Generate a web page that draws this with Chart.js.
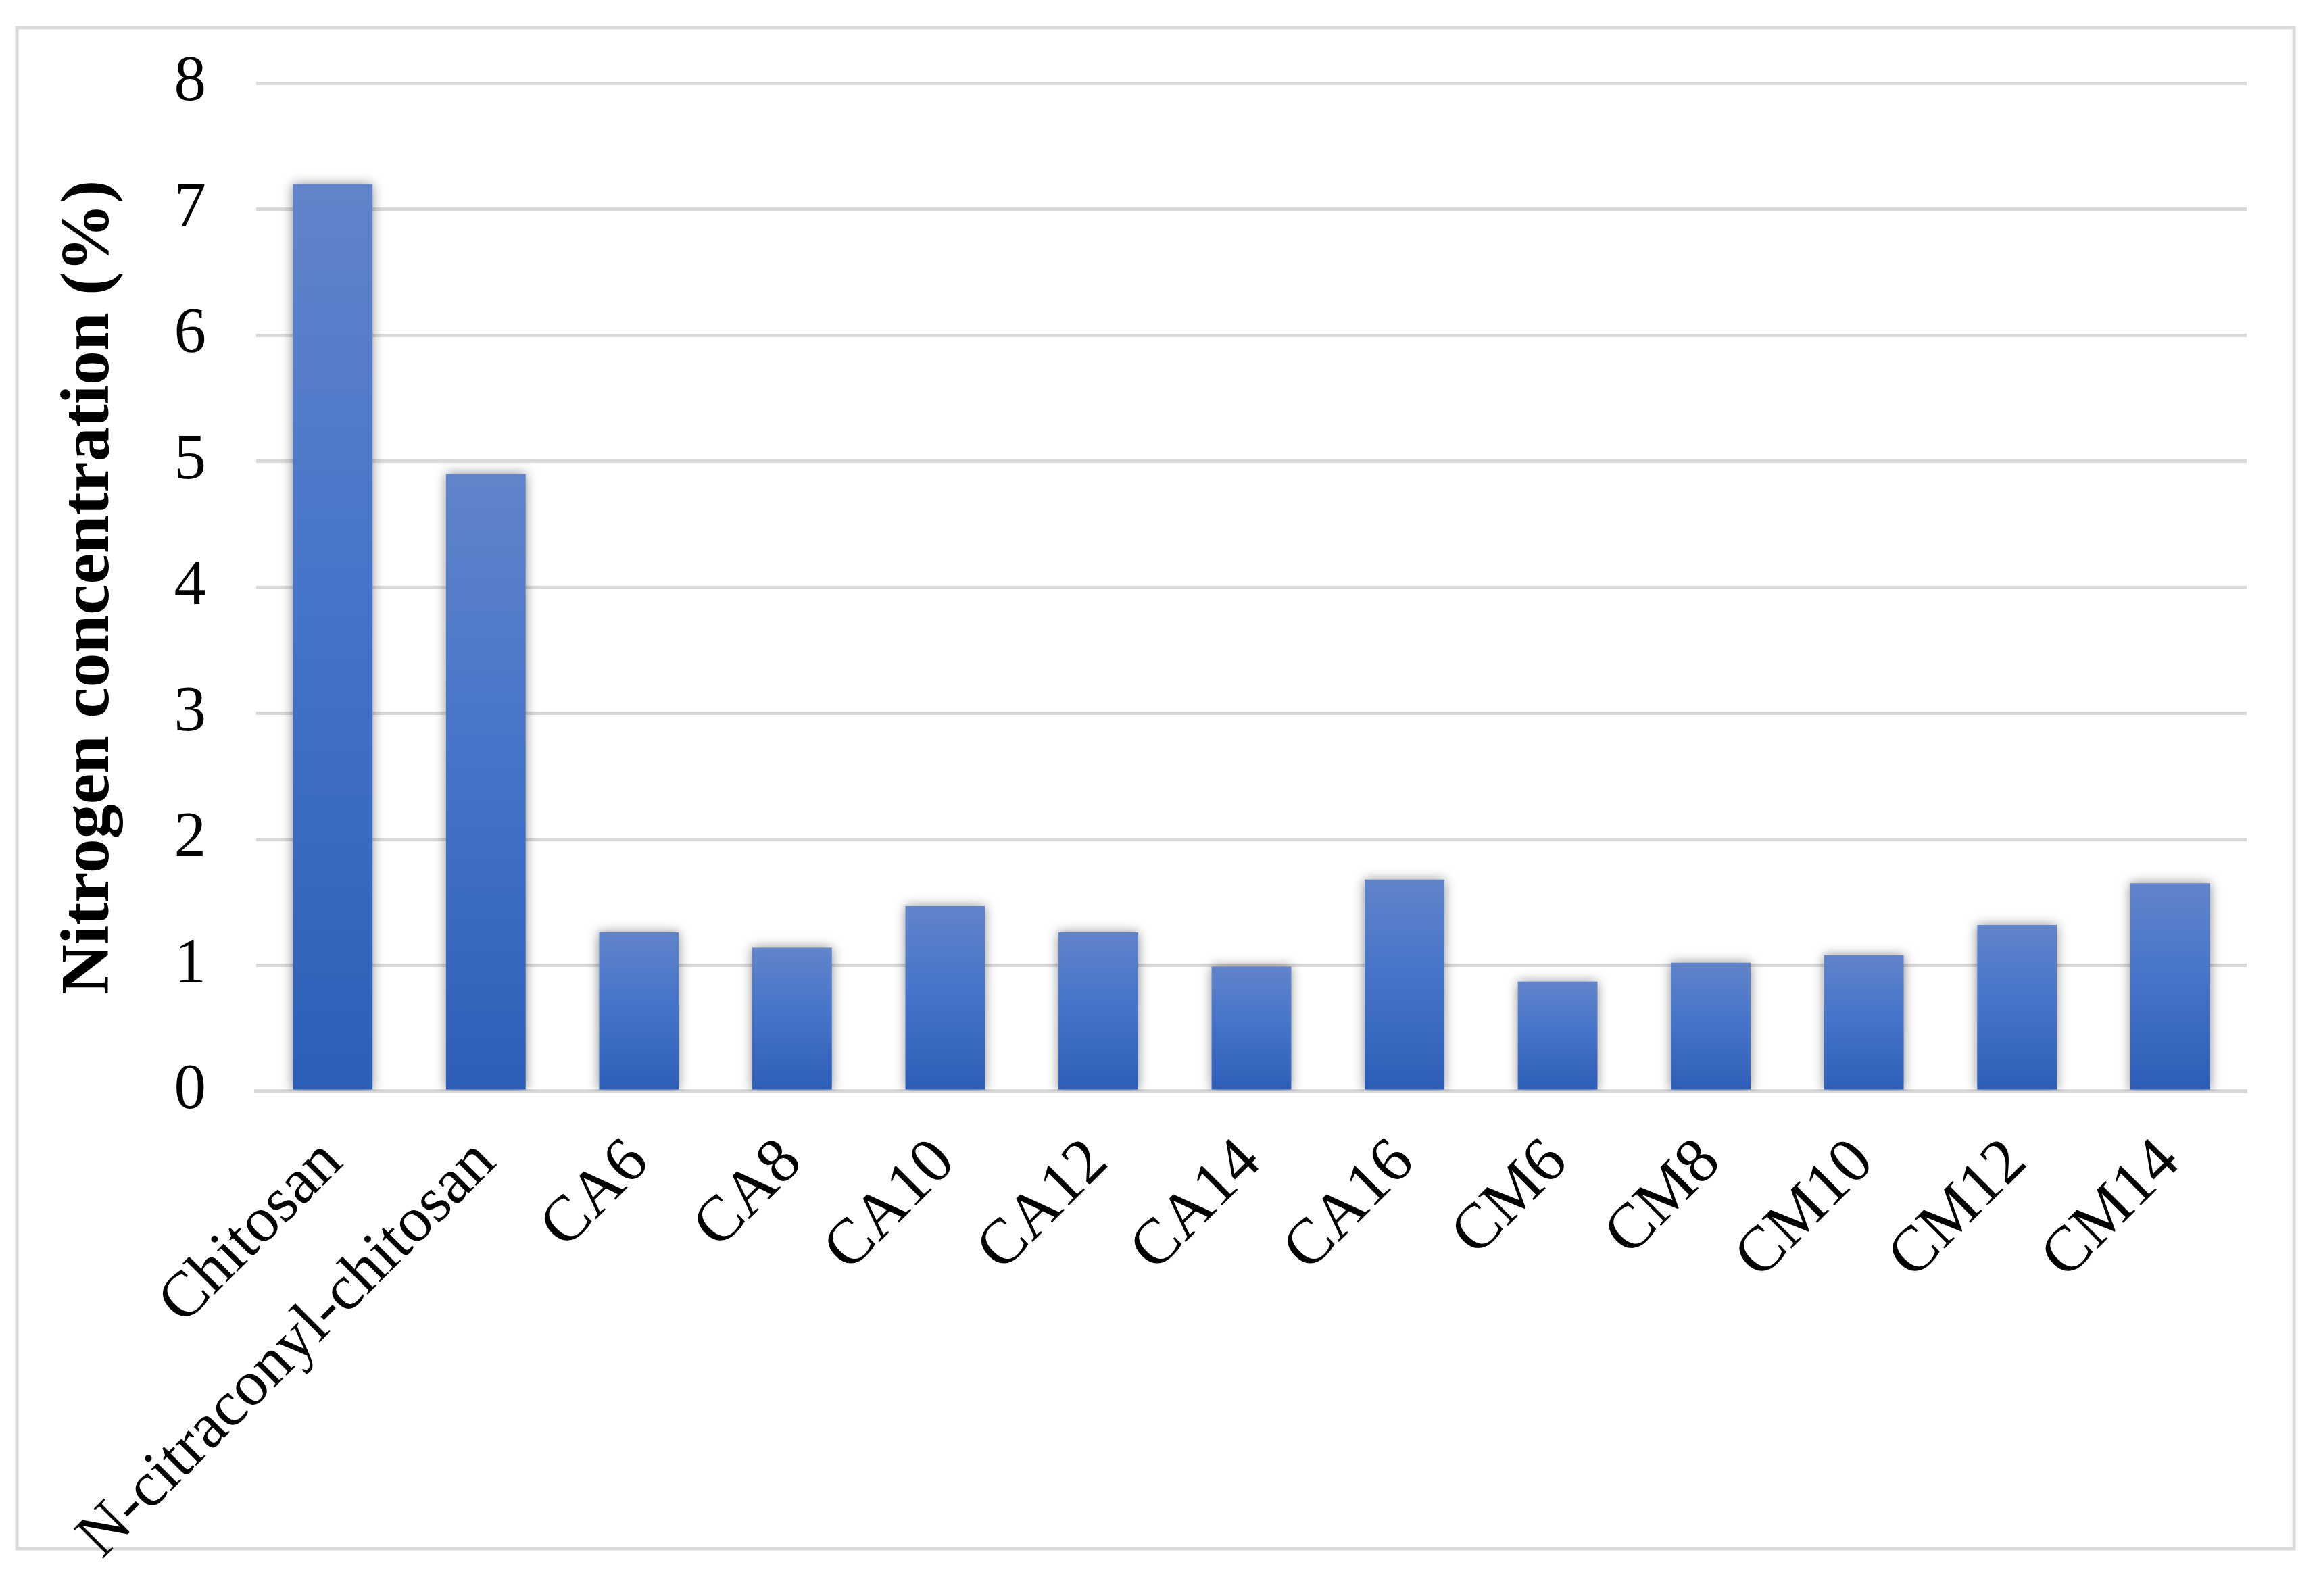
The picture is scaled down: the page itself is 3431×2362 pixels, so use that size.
<!DOCTYPE html>
<html><head><meta charset="utf-8">
<script src="https://cdn.jsdelivr.net/npm/chart.js@4/dist/chart.umd.min.js"></script>
<style>html,body{margin:0;padding:0;background:#fff}#wrap{position:relative;width:3431px;height:2362px}</style>
</head><body><div id="wrap"><canvas id="c" width="3431" height="2362"></canvas></div>
<script>
const categories = ['Chitosan','N-citraconyl-chitosan','CA6','CA8','CA10','CA12','CA14','CA16','CM6','CM8','CM10','CM12','CM14'];
const nitrogenValues = [7.2, 4.9, 1.26, 1.14, 1.47, 1.26, 0.99, 1.68, 0.87, 1.02, 1.08, 1.32, 1.65];
const yTickValues = [0,1,2,3,4,5,6,7,8];
const yTitle = 'Nitrogen concentration (%)';

const FONT = "'Liberation Serif','Times New Roman',serif";

const frame = {
  id: 'frame',
  beforeDraw(chart) {
    const c = chart.ctx;
    c.save();
    c.fillStyle = '#fff';
    c.fillRect(0, 0, chart.width, chart.height);
    c.strokeStyle = '#D9D9D9';
    c.lineWidth = 5;
    c.strokeRect(25, 41, 3369, 2251);
    c.restore();
  }
};
const shadow = {
  id: 'shadow',
  beforeDatasetsDraw(chart) {
    const c = chart.ctx;
    c.save();
    c.shadowColor = 'rgba(0,0,0,0.45)';
    c.shadowBlur = 16;
    c.shadowOffsetX = 0;
    c.shadowOffsetY = 0;
  },
  afterDatasetsDraw(chart) { chart.ctx.restore(); }
};

function barGradient(context) {
  const chart = context.chart;
  const y = chart.scales && chart.scales.y;
  if (!y || context.type !== 'data') return '#4472C4';
  const top = y.getPixelForValue(context.raw);
  const bot = y.getPixelForValue(0);
  if (!isFinite(top) || !isFinite(bot) || top === bot) return '#4472C4';
  const g = chart.ctx.createLinearGradient(0, top, 0, bot);
  g.addColorStop(0, '#6184CA');
  g.addColorStop(0.45, '#4674C9');
  g.addColorStop(1, '#2D5EB7');
  return g;
}

new Chart(document.getElementById('c'), {
  type: 'bar',
  data: {
    labels: categories,
    datasets: [{
      data: nitrogenValues,
      backgroundColor: barGradient,
      borderWidth: 0,
      barPercentage: 0.52,
      categoryPercentage: 1.0
    }]
  },
  options: {
    responsive: false,
    devicePixelRatio: 1,
    animation: false,
    events: [],
    layout: { padding: { left: 50, top: 100, right: 107, bottom: 0 } },
    plugins: { legend: { display: false }, tooltip: { enabled: false } },
    scales: {
      x: {
        grid: { display: false },
        border: { display: true, color: '#D9D9D9', width: 6 },
        ticks: {
          autoSkip: false, maxRotation: 45, minRotation: 45,
          color: '#000', padding: 42,
          font: { family: FONT, size: 95 }
        },
        afterFit(scale) { scale.height = 2362 - 1615; }
      },
      y: {
        min: 0, max: 8,
        afterBuildTicks(scale) { scale.ticks = yTickValues.map(v => ({ value: v })); },
        grid: { color: '#D9D9D9', lineWidth: 5, drawTicks: false },
        border: { display: false },
        ticks: {
          color: '#000', padding: 74,
          font: { family: FONT, size: 95, lineHeight: 1.04 }
        },
        title: {
          display: true, text: yTitle, color: '#000',
          padding: { top: 22, bottom: 0 },
          font: { family: FONT, size: 102, weight: 'bold' }
        },
        afterFit(scale) { scale.width = 379 - 50; }
      }
    }
  },
  plugins: [frame, shadow]
});
</script></body></html>
